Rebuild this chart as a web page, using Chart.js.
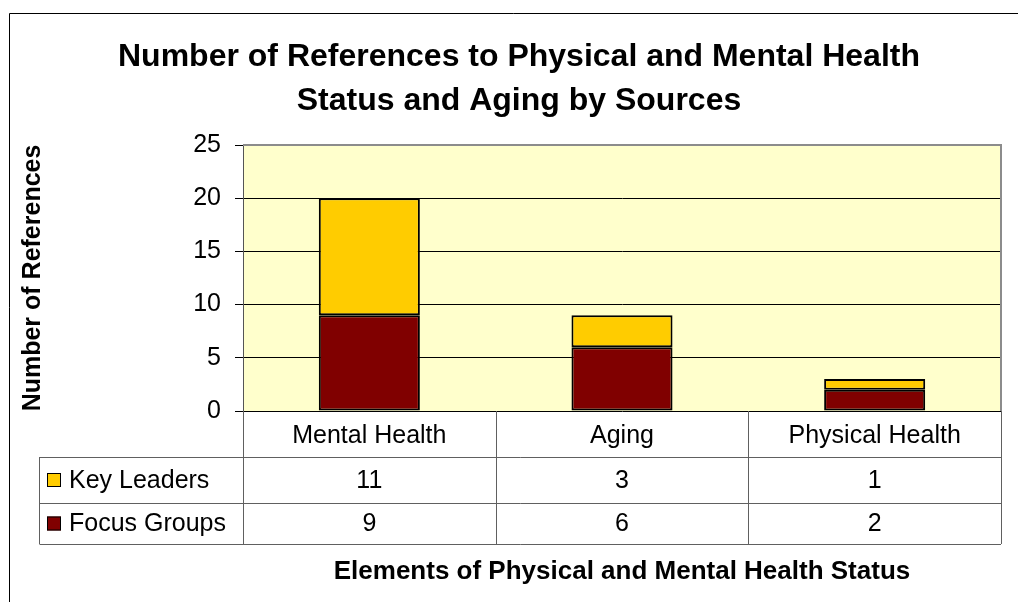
<!DOCTYPE html>
<html>
<head>
<meta charset="utf-8">
<script src="https://cdn.jsdelivr.net/npm/chart.js@4.4.0/dist/chart.umd.min.js"></script>
<style>
  body { margin: 0; background: #fff; }
</style>
</head>
<body>
<canvas id="refsChart" width="1018" height="602"></canvas>
<script>
var categories = ['Mental Health', 'Aging', 'Physical Health'];
var focusGroups = [9, 6, 2];
var keyLeaders = [11, 3, 1];
var yTicks = [0, 5, 10, 15, 20, 25];
var titleLines = ['Number of References to Physical and Mental Health', 'Status and Aging by Sources'];

var FONT = "'Liberation Sans', Arial, sans-serif";
var GOLD = '#FFCC00';
var MAROON = '#800000';

// backdrop, title and the data table under the plot
var dataTable = {
  id: 'dataTable',
  beforeDraw: function(chart) {
    var ctx = chart.ctx, a = chart.chartArea;
    ctx.save();
    ctx.fillStyle = '#fff';
    ctx.fillRect(0, 0, chart.width, chart.height);
    ctx.strokeStyle = '#000';
    ctx.lineWidth = 1;
    ctx.beginPath();
    ctx.moveTo(9.5, chart.height);
    ctx.lineTo(9.5, 13.5);
    ctx.lineTo(chart.width, 13.5);
    ctx.stroke();
    ctx.fillStyle = '#FFFFCC';
    ctx.fillRect(a.left, a.top, a.right - a.left, a.bottom - a.top);
    ctx.restore();
  },
  afterDraw: function(chart) {
    var ctx = chart.ctx, a = chart.chartArea, x = chart.scales.x;
    ctx.save();

    // title
    ctx.fillStyle = '#000';
    ctx.font = 'bold 32px ' + FONT;
    ctx.textAlign = 'center';
    ctx.textBaseline = 'alphabetic';
    ctx.fillText(titleLines[0], 519, 66);
    ctx.fillText(titleLines[1], 519, 110);

    // plot frame, top and right
    ctx.strokeStyle = '#8c8c8c';
    ctx.lineWidth = 2;
    ctx.beginPath();
    ctx.moveTo(a.left, a.top);
    ctx.lineTo(a.right, a.top);
    ctx.lineTo(a.right, a.bottom);
    ctx.stroke();

    // table grid
    var half = (x.getPixelForValue(1) - x.getPixelForValue(0)) / 2;
    var tableLeft = 39.5;
    var rowLines = [a.bottom + 46, a.bottom + 92, a.bottom + 133];
    ctx.strokeStyle = '#606060';
    ctx.lineWidth = 1;
    ctx.beginPath();
    rowLines.forEach(function(y) {
      ctx.moveTo(tableLeft, Math.round(y) + 0.5);
      ctx.lineTo(a.right, Math.round(y) + 0.5);
    });
    ctx.moveTo(tableLeft, rowLines[0]);
    ctx.lineTo(tableLeft, rowLines[2]);
    for (var i = 0; i <= categories.length; i++) {
      var px = Math.round(x.getPixelForValue(i) - half) + 0.5;
      ctx.moveTo(px, a.bottom);
      ctx.lineTo(px, rowLines[2]);
    }
    ctx.stroke();

    // series rows: legend key + values
    var rows = [chart.data.datasets[1], chart.data.datasets[0]];
    ctx.font = '25px ' + FONT;
    ctx.textBaseline = 'middle';
    rows.forEach(function(ds, r) {
      var cy = (rowLines[r] + rowLines[r + 1]) / 2;
      ctx.fillStyle = ds.backgroundColor;
      ctx.fillRect(47, cy - 7, 14, 14);
      ctx.strokeStyle = '#000';
      ctx.strokeRect(47.5, cy - 6.5, 13, 13);
      ctx.fillStyle = '#000';
      ctx.textAlign = 'left';
      ctx.fillText(ds.label, 69, cy + 1);
      ctx.textAlign = 'center';
      ds.data.forEach(function(v, j) {
        ctx.fillText(String(v), x.getPixelForValue(j), cy + 1);
      });
    });
    ctx.restore();
  }
};

new Chart(document.getElementById('refsChart'), {
  type: 'bar',
  data: {
    labels: categories,
    datasets: [{
      label: 'Focus Groups',
      data: focusGroups,
      backgroundColor: MAROON,
      borderColor: '#000',
      borderWidth: 2,
      borderSkipped: false
    }, {
      label: 'Key Leaders',
      data: keyLeaders,
      backgroundColor: GOLD,
      borderColor: '#000',
      borderWidth: 2,
      borderSkipped: false
    }]
  },
  options: {
    responsive: false,
    animation: false,
    layout: { padding: { top: 145, right: 17, left: 0, bottom: 0 } },
    datasets: { bar: { categoryPercentage: 1, barPercentage: 0.4 } },
    plugins: {
      legend: { display: false },
      title: { display: false },
      tooltip: { enabled: false }
    },
    scales: {
      x: {
        stacked: true,
        afterFit: function(s) { s.height = 191; },
        grid: { display: false, drawTicks: false },
        border: { display: false },
        ticks: { color: '#000', font: { family: FONT, size: 25 }, padding: 10 },
        title: {
          display: true,
          text: 'Elements of Physical and Mental Health Status',
          color: '#000',
          font: { family: FONT, size: 26, weight: 'bold' },
          padding: { top: 0, bottom: 15 }
        }
      },
      y: {
        stacked: true,
        min: yTicks[0],
        max: yTicks[yTicks.length - 1],
        afterFit: function(s) { s.width = 243; },
        ticks: { stepSize: yTicks[1] - yTicks[0], color: '#000', font: { family: FONT, size: 25 }, padding: 14 },
        grid: {
          color: function(c) { return c.tick && c.tick.value === yTicks[yTicks.length - 1] ? 'rgba(0,0,0,0)' : '#000'; },
          tickColor: '#000',
          tickLength: 8
        },
        border: { display: true, color: '#555', width: 1 },
        title: {
          display: true,
          text: 'Number of References',
          color: '#000',
          font: { family: FONT, size: 25, weight: 'bold' },
          padding: { top: 18, bottom: 0 }
        }
      }
    }
  },
  plugins: [dataTable]
});
</script>
</body>
</html>
